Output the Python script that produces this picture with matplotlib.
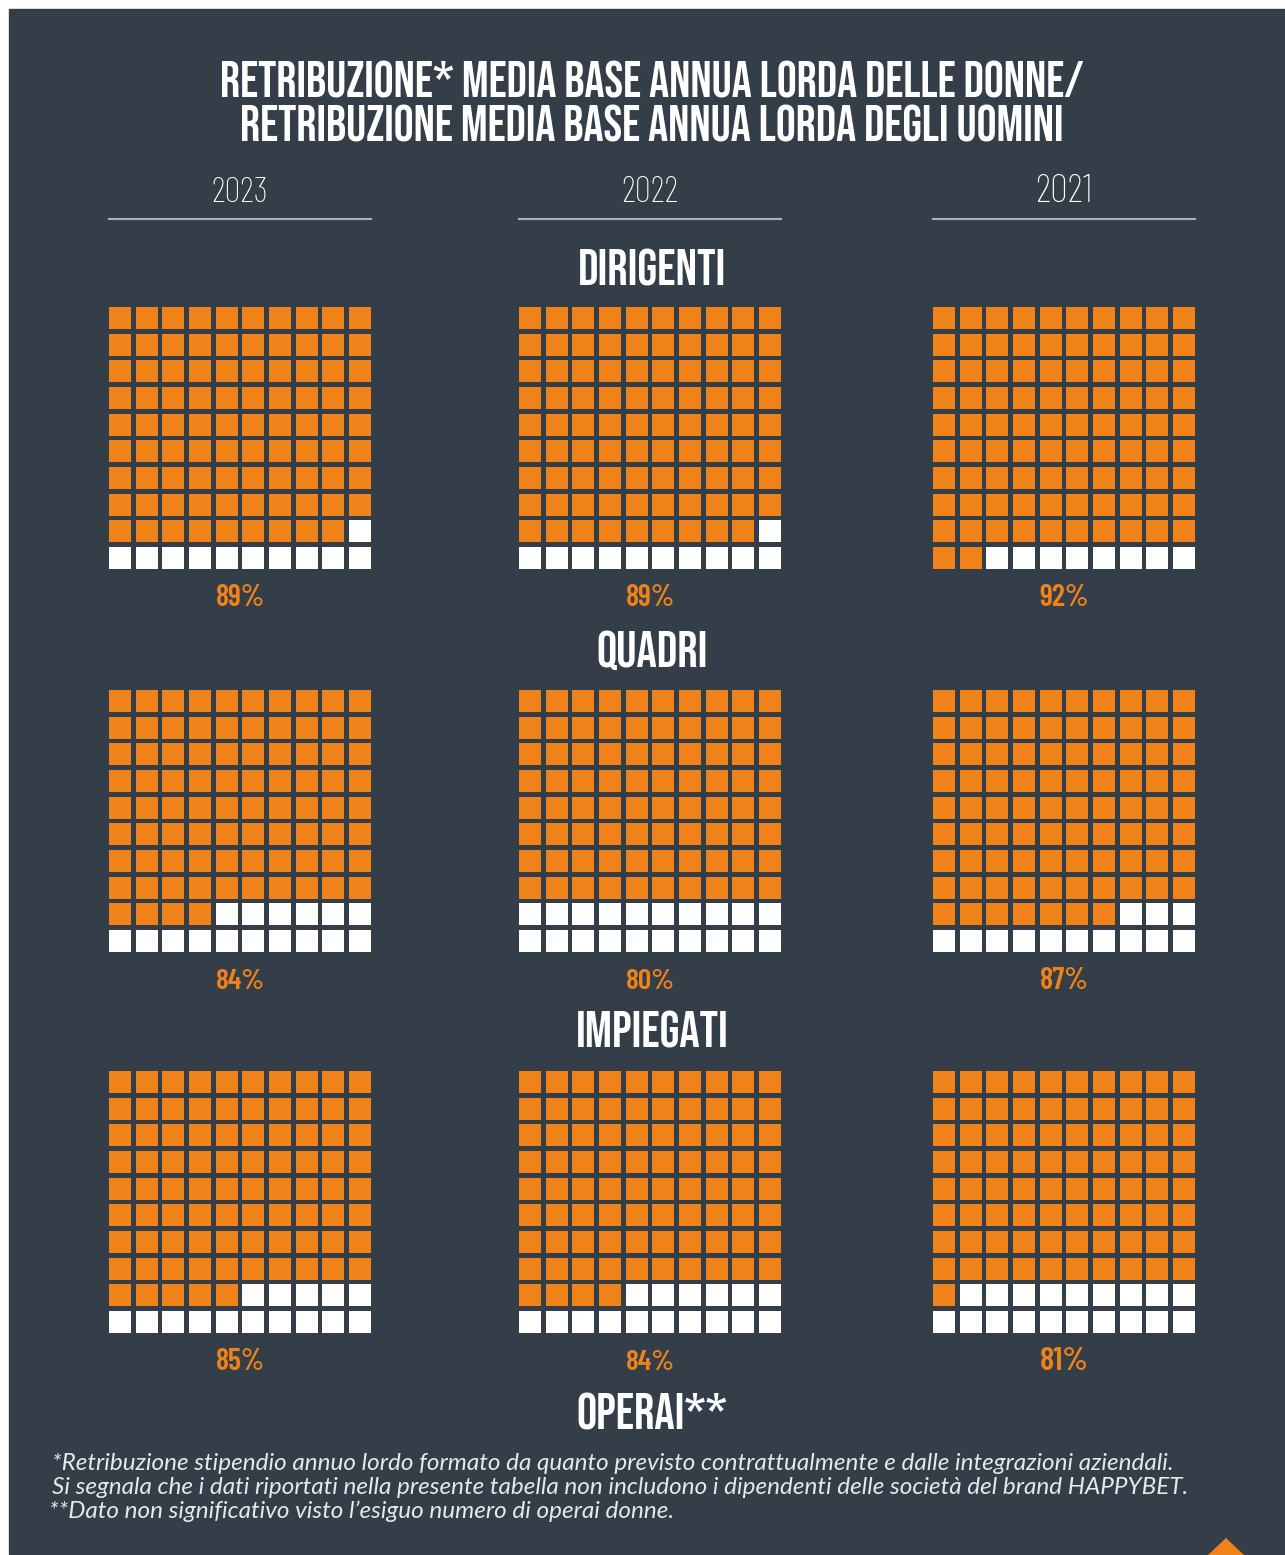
import numpy as np
import matplotlib
matplotlib.use("Agg")
import matplotlib.pyplot as plt
from matplotlib.patches import Rectangle, Polygon
from matplotlib import font_manager

# data
years = ["2023", "2022", "2021"]
categories = ["DIRIGENTI", "QUADRI", "IMPIEGATI"]
ratio_dirigenti = [89, 89, 92]
ratio_quadri = [84, 80, 87]
ratio_impiegati = [85, 84, 81]
title_lines = [
    "RETRIBUZIONE* MEDIA BASE ANNUA LORDA DELLE DONNE/",
    "RETRIBUZIONE MEDIA BASE ANNUA LORDA DEGLI UOMINI",
]
last_label = "OPERAI**"
footnotes = [
    "*Retribuzione stipendio annuo lordo formato da quanto previsto contrattualmente e dalle integrazioni aziendali.",
    "Si segnala che i dati riportati nella presente tabella non includono i dipendenti delle società del brand HAPPYBET.",
    "**Dato non significativo visto l\u2019esiguo numero di operai donne.",
]

BG = "#333e48"
ORANGE = "#f0821a"
WHITE = "#ffffff"
LINE = "#aab0b5"

fonts = font_manager.fontManager.ttflist
available = {f.name for f in fonts}


def pick(cands):
    for c in cands:
        if c in available:
            return [c, "DejaVu Sans"]
    return ["DejaVu Sans"]


def pick_italic(cands):
    # a family that has a real italic at normal/light weight
    for c in cands:
        if any(f.name == c and f.style == "italic" and str(f.weight) in ("300", "400")
               for f in fonts):
            return [c, "DejaVu Sans"]
    return ["DejaVu Sans"]


F_BOLD = pick(["Bebas Neue", "Oswald", "Barlow Condensed", "Roboto Condensed", "Alumni Sans"])
F_LIGHT = pick(["Barlow Condensed", "Roboto Condensed", "Oswald", "Alumni Sans"])
F_PCT = pick(["Barlow Condensed", "Roboto Condensed", "Oswald", "Bebas Neue"])
F_NOTE = pick_italic(["Montserrat", "Raleway", "Lato", "Open Sans"])

W, H = 1285, 1555
fig = plt.figure(figsize=(W / 100, H / 100), dpi=100)
fig.patch.set_facecolor("white")
ax = fig.add_axes([0, 0, 1, 1])
ax.set_xlim(0, W)
ax.set_ylim(H, 0)
ax.axis("off")
renderer = fig.canvas.get_renderer()


def fit_text(x, y, s, width, max_size=60, **kw):
    # scale font size so the rendered text is about `width` pixels wide
    t = ax.text(x, y, s, fontsize=10, **kw)
    w = t.get_window_extent(renderer).width
    t.set_fontsize(min(max_size, 10 * width / w))
    return t


ax.add_patch(Rectangle((9, 9), W - 9, H - 10, color=BG, zorder=0))

# title
t1 = fit_text(652, 97, title_lines[0], 875, ha="center", va="baseline",
              color="white", fontweight="bold", family=F_BOLD)
ax.text(652, 141, title_lines[1], ha="center", va="baseline", color="white",
        fontsize=t1.get_fontsize(), fontweight="bold", family=F_BOLD)

col_x = [109, 519, 933]
grid_w = 262
for x0, yr in zip(col_x, years):
    fit_text(x0 + grid_w / 2, 202, yr, 57, max_size=30, ha="center", va="baseline",
             color="white", fontweight="light", family=F_LIGHT)
    ax.plot([x0, x0 + grid_w], [219, 219], color=LINE, lw=1.5)

rows_y = [307, 690, 1071]
label_base = [285, 667, 1048]
cell = 22
pitch = (grid_w - cell) / 9
all_values = [ratio_dirigenti, ratio_quadri, ratio_impiegati]
sec_size = None
for cat, vals, y0, lb in zip(categories, all_values, rows_y, label_base):
    if sec_size is None:
        sec_size = fit_text(652, lb, cat, 150, ha="center", va="baseline", color="white",
                            fontweight="bold", family=F_BOLD).get_fontsize()
    else:
        ax.text(652, lb, cat, ha="center", va="baseline", color="white",
                fontsize=sec_size, fontweight="bold", family=F_BOLD)
    for x0, v in zip(col_x, vals):
        for k in range(100):
            r, c = divmod(k, 10)
            ax.add_patch(Rectangle((x0 + c * pitch, y0 + r * pitch), cell, cell,
                                   color=ORANGE if k < v else WHITE, lw=0))
        fit_text(x0 + grid_w / 2, y0 + 299, f"{v}%", 49, max_size=27, ha="center",
                 va="baseline", color=ORANGE, fontweight="semibold", family=F_PCT)

ax.text(652, 1429, last_label, ha="center", va="baseline", color="white",
        fontsize=sec_size, fontweight="bold", family=F_BOLD)

note_size = None
for i, t in enumerate(footnotes):
    x = 52 - (3 if i == 2 else 0)
    y = 1470 + i * 24
    if note_size is None:
        note_size = fit_text(x, y, t, 1200, max_size=17.5, ha="left", va="baseline",
                             color="#e6e8ea", style="italic", fontweight="normal",
                             family=F_NOTE).get_fontsize()
    else:
        ax.text(x, y, t, ha="left", va="baseline", color="#e6e8ea", fontsize=note_size,
                style="italic", fontweight="normal", family=F_NOTE)

ax.add_patch(Polygon([[1208, 1555], [1226, 1538], [1244, 1555]], color=ORANGE, lw=0))

fig.savefig("out.png", dpi=100, facecolor=fig.get_facecolor())
